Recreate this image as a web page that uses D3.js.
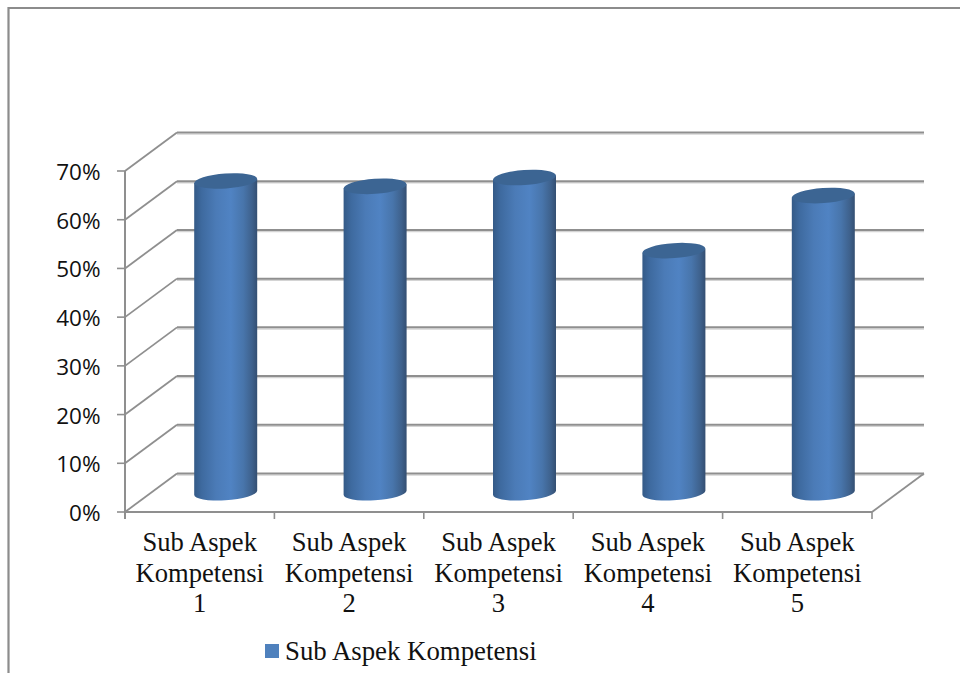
<!DOCTYPE html>
<html>
<head>
<meta charset="utf-8">
<script src="https://cdn.jsdelivr.net/npm/d3@7"></script>
<style>
html,body{margin:0;padding:0;background:#fff;overflow:hidden}
svg{display:block}
</style>
</head>
<body>
<svg id="chart" width="960" height="673"></svg>
<script>
const categories = ["1", "2", "3", "4", "5"];
const categoryPrefix = ["Sub Aspek", "Kompetensi"];
const seriesName = "Sub Aspek Kompetensi";
const values = [64, 62.9, 64.7, 49.7, 61];
const yTicks = [0, 10, 20, 30, 40, 50, 60, 70];

const svg = d3.select("#chart");
const depth = {x: 52, y: 38.5};
const x = d3.scaleBand().domain(categories).range([125, 872]);
const y = d3.scaleLinear().domain([0, 70]).range([512, 171]);
const barWidth = 63;

// Cylinder shading, dark at both edges and brightest just right of centre
const defs = svg.append("defs");
const grad = defs.append("linearGradient").attr("id", "cyl");
[[0, "#345a87"], [0.12, "#3e6a9f"], [0.35, "#4b7bb7"], [0.58, "#5083c3"],
 [0.78, "#4875ab"], [0.92, "#3e618c"], [1, "#344f72"]].forEach(([o, c]) =>
  grad.append("stop").attr("offset", o).attr("stop-color", c));

// Outer frame, open at the right and bottom of the page
svg.append("path")
  .attr("d", "M8.5,673V8H960")
  .attr("fill", "none").attr("stroke", "#8c8c8c").attr("stroke-width", 2.2);

const wall = svg.append("g").attr("fill", "none").attr("stroke", "#8f8f8f");

// Soft shadow under the back-wall gridlines
wall.selectAll("line.gridshade").data(yTicks).join("line").attr("class", "gridshade")
  .attr("x1", x.range()[0] + depth.x).attr("x2", x.range()[1] + depth.x)
  .attr("y1", d => y(d) - depth.y + 1.6).attr("y2", d => y(d) - depth.y + 1.6)
  .attr("stroke", "#d4d4d4").attr("stroke-width", 1.4);

// Back-wall gridlines with their diagonals on the side wall
wall.selectAll("line.grid").data(yTicks).join("line").attr("class", "grid")
  .attr("x1", x.range()[0] + depth.x).attr("x2", x.range()[1] + depth.x)
  .attr("y1", d => y(d) - depth.y).attr("y2", d => y(d) - depth.y)
  .attr("stroke-width", 2);
wall.selectAll("line.side").data(yTicks).join("line").attr("class", "side")
  .attr("x1", x.range()[0]).attr("x2", x.range()[0] + depth.x)
  .attr("y1", d => y(d)).attr("y2", d => y(d) - depth.y)
  .attr("stroke-width", 1.8);

// Floor edges
wall.append("line")
  .attr("x1", x.range()[1]).attr("x2", x.range()[1] + depth.x)
  .attr("y1", y(0)).attr("y2", y(0) - depth.y).attr("stroke-width", 1.8);
wall.append("line")
  .attr("x1", x.range()[0] - 1).attr("x2", x.range()[1])
  .attr("y1", y(0)).attr("y2", y(0)).attr("stroke-width", 2);

// Value axis
wall.append("line")
  .attr("x1", x.range()[0]).attr("x2", x.range()[0])
  .attr("y1", y(70)).attr("y2", y(0) + 7).attr("stroke-width", 2);
wall.selectAll("line.ytick").data(yTicks).join("line").attr("class", "ytick")
  .attr("x1", x.range()[0] - 8).attr("x2", x.range()[0])
  .attr("y1", d => y(d)).attr("y2", d => y(d)).attr("stroke-width", 1.6);

// Category ticks
const boundaries = categories.map(c => x(c) + x.bandwidth());
wall.selectAll("line.xtick").data(boundaries).join("line").attr("class", "xtick")
  .attr("x1", d => d).attr("x2", d => d)
  .attr("y1", y(0)).attr("y2", y(0) + 7).attr("stroke-width", 1.6);

// Value labels
svg.append("g").selectAll("text").data(yTicks).join("text")
  .attr("x", 100.5).attr("y", d => y(d) + 9)
  .attr("text-anchor", "end")
  .attr("font-family", "'Open Sans','Noto Sans',sans-serif")
  .attr("font-size", 22.5).attr("fill", "#111")
  .text(d => d + "%");

// Cylinders stand halfway into the floor depth
const cx = c => x(c) + x.bandwidth() / 2 + depth.x / 2;
const baseY = y(0) - depth.y / 2;
const rx = barWidth / 2, ry = 7.5, tilt = -4;
const bars = svg.append("g").selectAll("g").data(categories.map((c, i) => ({c, v: values[i]}))).join("g");

bars.append("path")
  .attr("fill", "url(#cyl)")
  .attr("d", d => {
    const top = baseY - (y(0) - y(d.v));
    return `M${cx(d.c) - rx},${top + 2}L${cx(d.c) - rx},${baseY + 2}` +
      `A${rx},${ry} ${tilt} 0 0 ${cx(d.c) + rx},${baseY - 2}` +
      `L${cx(d.c) + rx},${top - 2}Z`;
  });
bars.append("ellipse")
  .attr("fill", "#3c6593")
  .attr("rx", rx).attr("ry", ry)
  .attr("transform", d => `translate(${cx(d.c)},${baseY - (y(0) - y(d.v))}) rotate(${tilt})`);

// Category labels, three lines each
const labels = svg.append("g")
  .attr("font-family", "'Liberation Serif','Times New Roman',serif")
  .attr("font-size", 26.6).attr("fill", "#111").attr("text-anchor", "middle");
labels.selectAll("text").data(categories).join("text")
  .attr("transform", d => `translate(${x(d) + x.bandwidth() / 2},0)`)
  .selectAll("tspan").data(d => [...categoryPrefix, d]).join("tspan")
  .attr("x", 0).attr("y", (d, i) => 551 + i * 30.7)
  .text(d => d);

// Legend
svg.append("rect").attr("x", 265).attr("y", 644).attr("width", 14).attr("height", 14).attr("fill", "#4f81bd");
svg.append("text").attr("x", 285).attr("y", 660)
  .attr("font-family", "'Liberation Serif','Times New Roman',serif")
  .attr("font-size", 26.8).attr("fill", "#111")
  .text(seriesName);
</script>
</body>
</html>
